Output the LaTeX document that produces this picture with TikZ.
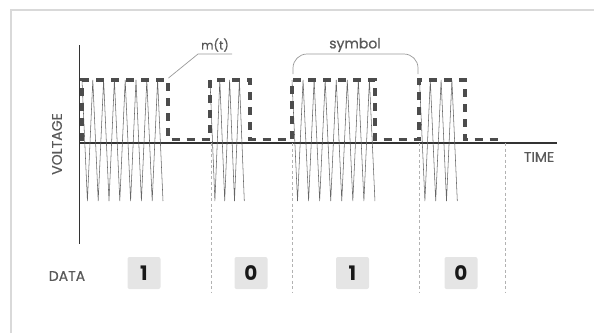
\documentclass[tikz,border=0pt]{standalone}
\usepackage{fontspec}
\setmainfont{Poppins}
\newfontfamily\lblfont[FakeBold=0.6]{Poppins}
\begin{document}
\begin{tikzpicture}[x=1pt,y=-1pt,
  lbl/.style={text=black!65, font=\lblfont\fontsize{14}{15}\selectfont, inner sep=0pt},
  axisline/.style={draw=black!80, line width=1.1pt},
  carrier/.style={draw=black!60, line width=0.55pt, line join=miter},
  msig/.style={draw=black!70, line width=3.5pt, dash pattern=on 8pt off 7pt},
  sep/.style={draw=black!30, line width=0.7pt, dash pattern=on 3pt off 2.5pt},
  leader/.style={draw=black!40, line width=0.7pt},
  bitbox/.style={fill=black!10, rounded corners=2pt, minimum width=33pt, minimum height=32pt, inner sep=0pt, text=black!90, font=\fontsize{20}{20}\selectfont\bfseries}]
\useasboundingbox (0,0) rectangle (594,333);
% frame
\draw[draw=black!15, line width=1.5pt] (11,333) -- (11,10) -- (594,10);
% axes
\coordinate (o) at (79.5,143);
\coordinate (ytop) at (79.5,45);
\coordinate (ybot) at (79.5,244);
\coordinate (xend) at (557,143);
\draw[axisline] (ytop) -- (ybot);
\draw[axisline] (o) -- (xend);
\node[lbl, rotate=90] (volt) at (57,144) {VOLTAGE};
\node[lbl] (time) at (539,157) {TIME};
% separators
\foreach \x/\n in {211/s1,292/s2,419/s3,505/s4}{
  \coordinate (\n t) at (\x,143);
  \coordinate (\n b) at (\x,292);
  \draw[sep] (\n t) -- (\n b);
}
% carrier bursts
\foreach \xa/\h/\nn in {82/5.4/15, 210/4.9/7, 292/5.53/15, 419.5/5.4/7}{
  \draw[carrier] (\xa,80) \foreach \k in {1,...,\nn}{ -- ({\xa+\k*\h},{ifthenelse(mod(\k,2)==1,201,80)}) };
}
% m(t)
\draw[msig] (82,141) -- (82,80) -- (168,80) -- (168,139.5) -- (210,139.5) -- (210,80) -- (250,80) -- (250,139.5)
  -- (292,139.5) -- (292,80) -- (375,80) -- (375,139.5) -- (419,139.5) -- (419,80) -- (465,80) -- (465,139.5) -- (500,139.5);
% labels
\node[lbl, font=\lblfont\fontsize{12}{13}\selectfont] (mt) at (215,45) {m(t)};
\coordinate (mtc) at (168.5,78);
\coordinate (mtk) at (198,54);
\coordinate (mte) at (232,54);
\draw[leader] (mtc) -- (mtk) -- (mte);
\node[lbl] (sym) at (355,45) {symbol};
\coordinate (bl) at (293,74);
\coordinate (br) at (418,74);
\draw[leader, rounded corners=14pt] (bl) -- (293,54) -- (418,54) -- (br);
% data row
\node[lbl] (data) at (67,276) {DATA};
\node[bitbox] (b1) at (144,273) {1};
\node[bitbox] (b2) at (251,273) {0};
\node[bitbox] (b3) at (352.5,273) {1};
\node[bitbox] (b4) at (461,273) {0};
\end{tikzpicture}
\end{document}
